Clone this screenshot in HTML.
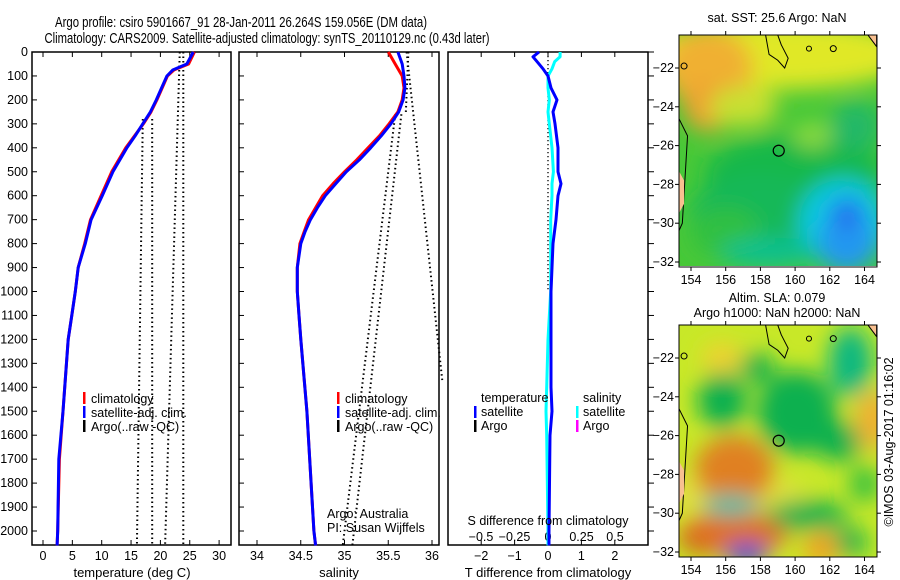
<!DOCTYPE html>
<html><head><meta charset="utf-8"><style>
body{margin:0;background:#fff}
svg{display:block;font-family:"Liberation Sans",sans-serif}
</style></head><body>
<svg id="c" width="900" height="580" xmlns="http://www.w3.org/2000/svg">
<defs>
<filter id="bl" x="-30%" y="-30%" width="160%" height="160%"><feGaussianBlur stdDeviation="11"/></filter>
<clipPath id="m1"><rect x="679" y="35" width="198" height="231"/></clipPath>
<clipPath id="m2"><rect x="679" y="325" width="198" height="232"/></clipPath>
</defs>
<text x="241" y="27" font-size="14.5" text-anchor="middle" textLength="372" lengthAdjust="spacingAndGlyphs">Argo profile: csiro 5901667_91 28-Jan-2011 26.264S 159.056E (DM data)</text>
<text x="267" y="43" font-size="14.5" text-anchor="middle" textLength="445" lengthAdjust="spacingAndGlyphs">Climatology: CARS2009. Satellite-adjusted climatology: synTS_20110129.nc (0.43d later)</text>
<g id="g"></g>
</svg>
<script>
// ---------- data ----------
const depthT = [0,50,75,100,150,200,250,300,350,400,500,600,700,800,900,1000,1100,1200,1500,1700,2000,2060];
const tempClim = [25.8,24.8,22.3,21.2,20.3,19.4,18.4,17.1,15.6,14.1,11.7,9.9,8.1,7.1,6.0,5.5,4.9,4.3,3.4,2.8,2.5,2.4];
const tempSat  = [25.6,24.5,22.1,21.1,20.2,19.3,18.3,17.0,15.7,14.3,11.9,10.1,8.2,7.2,6.0,5.5,4.9,4.3,3.4,2.7,2.5,2.4];
const depthS = [0,50,100,150,200,250,300,350,400,450,500,550,600,650,700,750,800,900,1000,1100,1200,1500,2000,2060];
const salClim = [35.50,35.58,35.66,35.68,35.66,35.61,35.51,35.40,35.27,35.14,35.00,34.87,34.75,34.67,34.59,34.54,34.49,34.46,34.46,34.48,34.50,34.57,34.65,34.67];
const salSat  = [35.61,35.66,35.68,35.69,35.67,35.62,35.53,35.42,35.30,35.17,35.02,34.90,34.78,34.69,34.61,34.55,34.50,34.46,34.46,34.48,34.50,34.57,34.65,34.67];
// dotted Argo(raw -QC) segments: [depth0, value0, depth1, value1]
const argoTempLines = [[280,17.0,2060,16.0],[280,18.6,2060,18.6],[0,23.3,2060,20.8],[0,23.9,2060,23.9]];
const argoSalLines = [[260,35.58,2060,34.98],[260,35.65,2060,35.09],[0,35.71,1380,36.12],[0,35.73,260,35.70]];
const depthD = [0,20,40,70,100,150,200,250,300,400,500,550,600,700,800,900,1000,1200,1400,1500,1600,2000,2060];
const tDiff = [-0.27,-0.45,-0.33,-0.15,0.0,0.09,0.27,0.15,0.21,0.30,0.30,0.39,0.30,0.24,0.15,0.12,0.09,0.09,0.09,0.12,0.06,0.03,0.03];
const sDiff = [0.09,0.09,0.05,0.03,0.0,0.0,0.01,0.0,0.01,0.03,0.04,0.03,0.03,0.02,0.02,0.02,0.02,0.0,-0.01,-0.015,-0.01,0.0,0.0];
const depthTicks = [0,100,200,300,400,500,600,700,800,900,1000,1100,1200,1300,1400,1500,1600,1700,1800,1900,2000];
const tTicks = [0,5,10,15,20,25,30];
const sTicks = [34,34.5,35,35.5,36];
const dTTicks = [-2,-1,0,1,2];
const dSTicks = [-0.5,-0.25,0,0.25,0.5];
const lonTicks = [154,156,158,160,162,164];
const latTicks = [-22,-24,-26,-28,-30,-32];

// ---------- helpers ----------
const NS="http://www.w3.org/2000/svg";
const G=document.getElementById('g');
function el(t,a,p){const e=document.createElementNS(NS,t);for(const k in a)e.setAttribute(k,a[k]);(p||G).appendChild(e);return e;}
function txt(x,y,s,size,anchor,p){const e=el('text',{x:x,y:y,'font-size':size||12,'text-anchor':anchor||'middle'},p);e.textContent=s;return e;}
const yD = d => 52 + d*0.2395;
const xT = t => 43 + t*5.87;
const xS = s => 257 + (s-34)*87.5;
const xDT = v => 548 + v*33.4;
const xDS = v => 548 + v*134;
function poly(xs,ds,fx,col,w,name){
  const pts=xs.map((v,i)=>fx(v).toFixed(1)+','+yD(ds[i]).toFixed(1)).join(' ');
  const e=el('polyline',{points:pts,fill:'none',stroke:col,'stroke-width':w,'stroke-linejoin':'round'});
  
  
}
function dotted(lines,fx,name){
  lines.forEach(l=>{
    const e=el('line',{x1:fx(l[1]),y1:yD(l[0]),x2:fx(l[3]),y2:yD(l[2]),stroke:'#000','stroke-width':2,'stroke-dasharray':'1.5 3'});
    
    
  });
}
function frame(x0,x1,name){
  const r=el('rect',{x:x0,y:52,width:x1-x0,height:493,fill:'none',stroke:'#000','stroke-width':1.5});
  
  
  depthTicks.forEach(d=>{el('line',{x1:x0,y1:yD(d),x2:x0+5,y2:yD(d),stroke:'#000'});});
}
function xticks(vals,fx,labels,y,name){
  vals.forEach((v,i)=>{
    const x=fx(v);
    el('line',{x1:x,y1:545,x2:x,y2:540,stroke:'#000'});
    el('line',{x1:x,y1:52,x2:x,y2:57,stroke:'#000'});
    const t=txt(x,y,labels[i],12.5);
    
    
  });
}

// ---------- panel 1: temperature ----------
frame(32,231,'temperature-panel');
depthTicks.forEach(d=>{
  const t=txt(28,yD(d)+4,String(d),12.5,'end');
  
  
});
xticks(tTicks,xT,tTicks.map(String),560,'temperature-tick-label');
dotted(argoTempLines,xT,'argo-temperature-dotted');
poly(tempClim,depthT,xT,'#f00',3,'temperature-climatology-line');
poly(tempSat,depthT,xT,'#00f',3,'temperature-satellite-line');
txt(132,577,'temperature (deg C)',13);

// ---------- panel 2: salinity ----------
frame(239,439,'salinity-panel');
xticks(sTicks,xS,['34','34.5','35','35.5','36'],560,'salinity-tick-label');
dotted(argoSalLines,xS,'argo-salinity-dotted');
poly(salClim,depthS,xS,'#f00',3,'salinity-climatology-line');
poly(salSat,depthS,xS,'#00f',3,'salinity-satellite-line');
txt(339,577,'salinity',13);
txt(327,518,'Argo: Australia',12.5,'start');
txt(327,532,'PI: Susan Wijffels',12.5,'start');

// legends
function legend(x,name){
  const items=[['#f00','climatology'],['#00f','satellite-adj. clim.'],['#000','Argo(..raw -QC)']];
  items.forEach((it,i)=>{
    const y=398+i*14;
    el('rect',{x:x,y:y-6,width:2.5,height:12,fill:it[0]});
    const t=txt(x+8,y+5,it[1],12.5,'start');
    
    
  });
}
legend(83,'temperature-legend-entry');
legend(337,'salinity-legend-entry');

// ---------- panel 3: differences ----------
const r3=el('rect',{x:448,y:52,width:200,height:493,fill:'none',stroke:'#000','stroke-width':1.5});


depthTicks.forEach(d=>{el('line',{x1:648,y1:yD(d),x2:654,y2:yD(d),stroke:'#000'});});
dTTicks.forEach(v=>{const x=xDT(v);el('line',{x1:x,y1:545,x2:x,y2:540,stroke:'#000'});el('line',{x1:x,y1:52,x2:x,y2:57,stroke:'#000'});
  const t=txt(x,560,String(v).replace('-','\u2212'),12.5);});
dSTicks.forEach(v=>{const t=txt(xDS(v),541,String(v).replace('-','\u2212'),12.5);
  });
const zl=el('line',{x1:548,y1:52,x2:548,y2:yD(1000),stroke:'#000','stroke-width':1.3,'stroke-dasharray':'1.3 2.7'});

poly(sDiff,depthD,xDS,'#0ff',3,'salinity-difference-line');
poly(tDiff,depthD,xDT,'#00f',3,'temperature-difference-line');
txt(548,525,'S difference from climatology',12.5);
txt(548,577,'T difference from climatology',13);
txt(481,402,'temperature',12.5,'start');
txt(583,402,'salinity',12.5,'start');
[['#00f',474,'satellite',416],['#000',474,'Argo',430],['#0ff',576,'satellite',416],['#f0f',576,'Argo',430]].forEach(it=>{
  el('rect',{x:it[1],y:it[3]-10,width:2.5,height:12,fill:it[0]});
  const t=txt(it[1]+7,it[3],it[2],12.5,'start');
  
  
});

// ---------- maps ----------
const xLon = lon => 691 + (lon-154)*17.35;
function yLat(lat,off){ return 68 + off + (-lat-22)*19.4; }
function blob(lon,lat,rx,ry,col,off,p){el('ellipse',{cx:xLon(lon),cy:yLat(lat,off),rx:rx,ry:ry,fill:col},p);}
function mapFrame(off,clip,name,blobs,base){
  const gm=el('g',{'clip-path':'url(#'+clip+')'});
  
  
  el('rect',{x:679,y:35+off,width:198,height:232,fill:base},gm);
  const gb=el('g',{filter:'url(#bl)'},gm);
  blobs.forEach(b=>blob(b[0],b[1],b[2],b[3],b[4],off,gb));
  el('path',{d:`M${xLon(153.3)} ${yLat(-24.6,off)} L${xLon(153.8)} ${yLat(-25.5,off)} L${xLon(153.7)} ${yLat(-27,off)} L${xLon(153.6)} ${yLat(-28.5,off)} L${xLon(153.5)} ${yLat(-30,off)} L${xLon(153.2)} ${yLat(-30.6,off)}`,fill:'none',stroke:'#000'},gm);
  el('path',{d:`M${xLon(153.3)} ${yLat(-27.3,off)} L${xLon(153.6)} ${yLat(-27.8,off)} L${xLon(153.6)} ${yLat(-29,off)} L${xLon(153.3)} ${yLat(-29.5,off)} Z`,fill:'#f8c090'},gm);
  el('path',{d:`M${xLon(158.3)} ${yLat(-20.3,off)} L${xLon(158.5)} ${yLat(-21.3,off)} L${xLon(159)} ${yLat(-21.6,off)} L${xLon(159.4)} ${yLat(-22,off)} L${xLon(159.6)} ${yLat(-21.5,off)} L${xLon(159.2)} ${yLat(-20.8,off)} L${xLon(159.0)} ${yLat(-20.3,off)}`,fill:'none',stroke:'#000'},gm);
  el('path',{d:`M${xLon(164.2)} ${yLat(-20.3,off)} L${xLon(164.7)} ${yLat(-20.9,off)} L${xLon(164.7)} ${yLat(-20.3,off)} Z`,fill:'#f8c090',stroke:'#000'},gm);
  el('circle',{cx:xLon(160.8),cy:yLat(-21.0,off),r:2.5,fill:'none',stroke:'#000'},gm);
  el('circle',{cx:xLon(162.2),cy:yLat(-21.0,off),r:3,fill:'none',stroke:'#000'},gm);
  el('circle',{cx:xLon(153.6),cy:yLat(-21.9,off),r:3,fill:'none',stroke:'#000'},gm);
  const pc=el('circle',{cx:xLon(159.056),cy:yLat(-26.264,off),r:5.5,fill:'none',stroke:'#000','stroke-width':1.2});
  
  
  el('rect',{x:679,y:35+off,width:198,height:232,fill:'none',stroke:'#000'});
  lonTicks.forEach(l=>{const x=xLon(l);el('line',{x1:x,y1:35+off,x2:x,y2:31+off,stroke:'#000'});el('line',{x1:x,y1:267+off,x2:x,y2:271+off,stroke:'#000'});
    const t=txt(x,284+off,String(l),12.5);});
  latTicks.forEach(l=>{const y=yLat(l,off);el('line',{x1:679,y1:y,x2:675,y2:y,stroke:'#000'});el('line',{x1:877,y1:y,x2:881,y2:y,stroke:'#000'});
    const t=txt(674,y+4,String(l).replace('-','\u2212'),12.5,'end');});
}
const sstBlobs=[[159,-21.3,140,35,'#e0e828'],[155,-22,45,40,'#f0b030'],[155,-24,25,25,'#f0a030'],[157,-24,35,20,'#c8e030'],
 [160,-27.5,90,40,'#18b848'],[158,-29.5,70,40,'#18b858'],[162.8,-30,45,45,'#10c8e0'],[163,-31,30,30,'#2098f0'],[163,-29.5,18,15,'#2070f0'],
 [156,-30.5,35,25,'#30c040'],[161,-25.5,20,12,'#90dc40'],[158.5,-31.5,50,15,'#10c090'],[163.5,-25,25,25,'#20b868']];
mapFrame(0,'m1','sst-map',sstBlobs,'#48c838');
const slaBlobs=[[156,-29,80,20,'#e0e040'],[156.7,-28,18,18,'#a01010'],[156.5,-27.8,40,35,'#e08020'],[155,-31.3,30,16,'#b02010'],[156.5,-31,55,22,'#e07020'],
 [156.3,-29.6,28,10,'#10c8b0'],[157.2,-32.1,22,10,'#1040e0'],[155.8,-24.2,25,28,'#10b050'],[157.8,-22.5,18,15,'#10b050'],[160.1,-24.8,40,42,'#10b050'],
 [162.5,-26.3,25,20,'#10b050'],[163.2,-22.2,22,35,'#10b880'],[160.7,-30.1,40,15,'#10b050'],[163,-31.5,20,15,'#10b050'],[164.5,-25.2,18,30,'#f0b030'],
 [161.5,-31.8,18,16,'#f0a020'],[155.8,-22,20,15,'#f0d030'],[164,-28.5,15,18,'#30c040']];
mapFrame(290,'m2','sla-map',slaBlobs,'#c8e828');
txt(777,22,'sat. SST: 25.6 Argo: NaN',12.5);
txt(777,302,'Altim. SLA: 0.079',12.5);
txt(777,317,'Argo h1000: NaN h2000: NaN',12.5);
const cr=txt(0,0,'\u00a9IMOS 03-Aug-2017 01:16:02',12.5);
cr.setAttribute('transform','translate(893,442) rotate(-90)');


</script>
</body></html>
